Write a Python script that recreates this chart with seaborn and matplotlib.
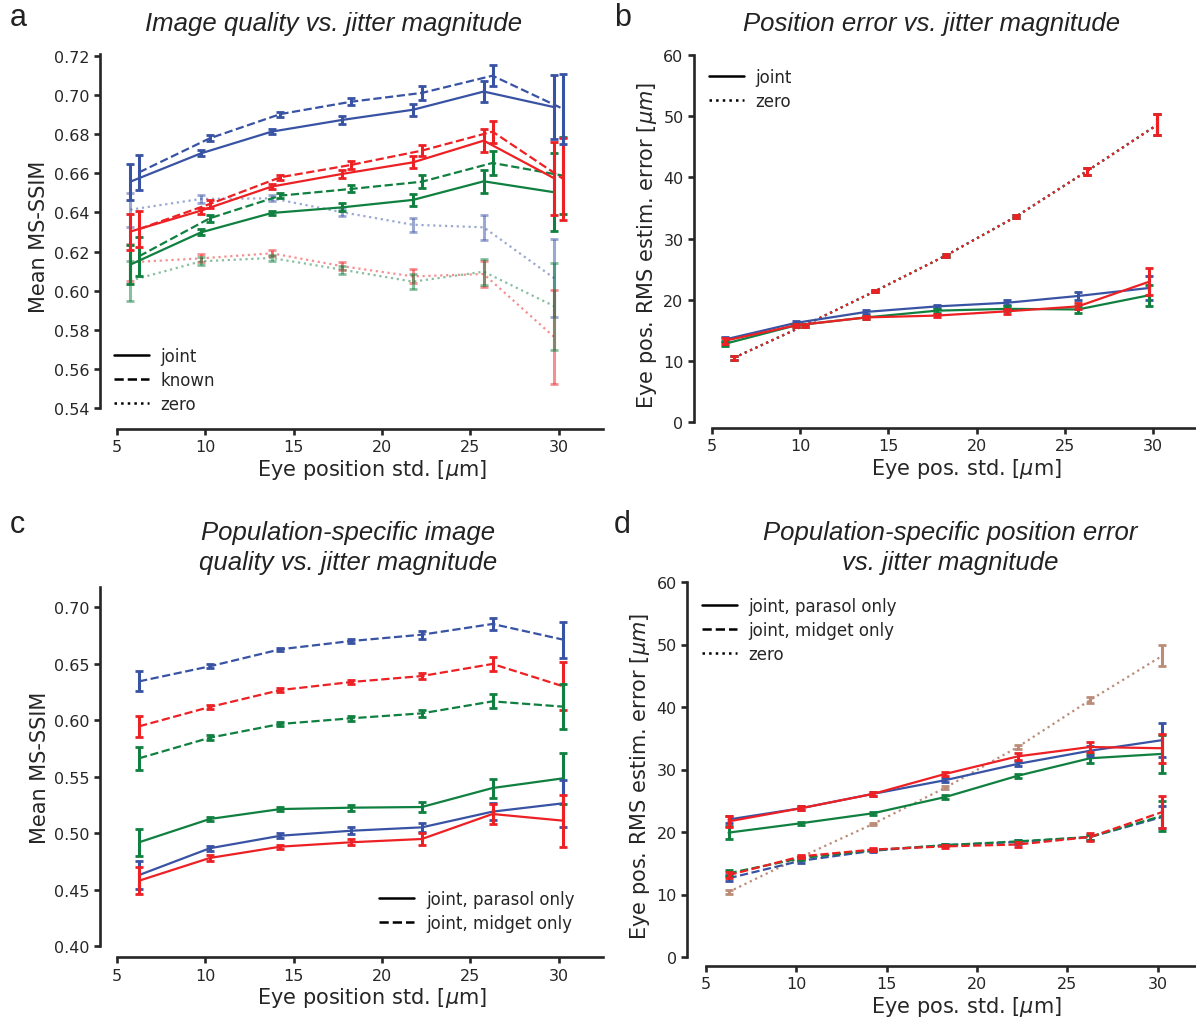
import numpy as np
import pandas as pd
import seaborn as sns
import matplotlib.pyplot as plt
from matplotlib.lines import Line2D

# eye position std values (um)
eye_std = np.array([6, 10, 14, 18, 22, 26, 30])

# ---- panel a: mean MS-SSIM, all cells ----
a_joint_blue = [0.6557, 0.6702, 0.6813, 0.6873, 0.6925, 0.7018, 0.6938]
a_joint_blue_err = [0.0092, 0.0015, 0.0013, 0.0020, 0.0030, 0.0055, 0.0165]
a_known_blue = [0.6605, 0.6779, 0.6903, 0.6966, 0.7011, 0.7099, 0.6929]
a_known_blue_err = [0.0088, 0.0015, 0.0013, 0.0018, 0.0034, 0.0054, 0.0180]
a_zero_blue = [0.6414, 0.6469, 0.6472, 0.6401, 0.6337, 0.6324, 0.6063]
a_zero_blue_err = [0.0087, 0.0019, 0.0015, 0.0020, 0.0036, 0.0064, 0.0200]
a_joint_red = [0.6302, 0.6409, 0.6532, 0.6597, 0.6656, 0.6767, 0.6574]
a_joint_red_err = [0.0092, 0.0015, 0.0013, 0.0020, 0.0030, 0.0060, 0.0186]
a_known_red = [0.6315, 0.6443, 0.6580, 0.6643, 0.6716, 0.6813, 0.6571]
a_known_red_err = [0.0092, 0.0018, 0.0013, 0.0020, 0.0030, 0.0056, 0.0210]
a_zero_red = [0.6145, 0.6165, 0.6191, 0.6125, 0.6073, 0.6085, 0.5762]
a_zero_red_err = [0.0095, 0.0020, 0.0015, 0.0020, 0.0036, 0.0068, 0.0239]
a_joint_green = [0.6133, 0.6298, 0.6397, 0.6426, 0.6464, 0.6559, 0.6503]
a_joint_green_err = [0.0100, 0.0015, 0.0010, 0.0020, 0.0032, 0.0060, 0.0200]
a_known_green = [0.6176, 0.6370, 0.6486, 0.6520, 0.6557, 0.6653, 0.6588]
a_known_green_err = [0.0099, 0.0018, 0.0013, 0.0018, 0.0033, 0.0063, 0.0196]
a_zero_green = [0.6051, 0.6150, 0.6167, 0.6107, 0.6046, 0.6097, 0.5920]
a_zero_green_err = [0.0102, 0.0020, 0.0015, 0.0020, 0.0040, 0.0066, 0.0223]

# ---- panel b: RMS position error ----
b_joint_blue = [13.5, 16.2, 18.0, 18.9, 19.5, 20.6, 21.9]
b_joint_blue_err = [0.4, 0.3, 0.3, 0.3, 0.4, 0.6, 2.0]
b_joint_green = [12.8, 15.8, 17.1, 18.2, 18.5, 18.4, 20.7]
b_joint_green_err = [0.4, 0.3, 0.3, 0.3, 0.4, 0.6, 1.7]
b_joint_red = [13.3, 15.8, 17.1, 17.4, 18.1, 18.9, 22.9]
b_joint_red_err = [0.5, 0.3, 0.3, 0.3, 0.4, 0.5, 2.2]
b_zero = [10.5, 15.8, 21.4, 27.2, 33.6, 41.0, 48.6]
b_zero_err = [0.35, 0.2, 0.2, 0.25, 0.3, 0.55, 1.75]

# ---- panel c: population-specific MS-SSIM ----
c_midget_blue = [0.6342, 0.6475, 0.6626, 0.6699, 0.6755, 0.6850, 0.6711]
c_midget_blue_err = [0.0089, 0.0018, 0.0015, 0.0018, 0.0034, 0.0052, 0.0160]
c_midget_red = [0.5944, 0.6115, 0.6265, 0.6336, 0.6389, 0.6496, 0.6298]
c_midget_red_err = [0.0091, 0.0018, 0.0015, 0.0018, 0.0030, 0.0065, 0.0212]
c_midget_green = [0.5661, 0.5843, 0.5965, 0.6015, 0.6059, 0.6165, 0.6118]
c_midget_green_err = [0.0103, 0.0020, 0.0015, 0.0020, 0.0030, 0.0062, 0.0202]
c_parasol_green = [0.4918, 0.5124, 0.5212, 0.5224, 0.5230, 0.5398, 0.5484]
c_parasol_green_err = [0.0118, 0.0020, 0.0020, 0.0025, 0.0048, 0.0084, 0.0226]
c_parasol_blue = [0.4628, 0.4865, 0.4976, 0.5020, 0.5050, 0.5189, 0.5263]
c_parasol_blue_err = [0.0123, 0.0020, 0.0020, 0.0030, 0.0038, 0.0074, 0.0210]
c_parasol_red = [0.4578, 0.4779, 0.4879, 0.4918, 0.4947, 0.5168, 0.5109]
c_parasol_red_err = [0.0122, 0.0025, 0.0018, 0.0025, 0.0056, 0.0088, 0.0230]

# ---- panel d: population-specific position error ----
d_parasol_blue = [22.0, 23.8, 26.1, 28.3, 30.9, 33.0, 34.7]
d_parasol_blue_err = [0.6, 0.3, 0.3, 0.3, 0.4, 0.8, 2.7]
d_parasol_red = [21.7, 23.8, 26.1, 29.3, 32.1, 33.6, 33.4]
d_parasol_red_err = [0.9, 0.3, 0.3, 0.3, 0.5, 0.85, 2.3]
d_parasol_green = [19.9, 21.4, 23.0, 25.6, 29.0, 31.8, 32.5]
d_parasol_green_err = [1.0, 0.2, 0.2, 0.3, 0.35, 0.7, 3.0]
d_midget_blue = [12.6, 15.4, 17.0, 17.9, 18.4, 19.2, 22.4]
d_midget_blue_err = [0.5, 0.3, 0.2, 0.2, 0.3, 0.4, 1.8]
d_midget_green = [13.4, 15.8, 17.1, 17.9, 18.5, 19.2, 22.6]
d_midget_green_err = [0.5, 0.3, 0.2, 0.2, 0.3, 0.4, 2.4]
d_midget_red = [13.1, 16.1, 17.2, 17.7, 18.0, 19.2, 23.2]
d_midget_red_err = [0.5, 0.3, 0.2, 0.2, 0.35, 0.6, 2.5]
d_zero = [10.4, 16.0, 21.3, 27.1, 33.6, 41.1, 48.2]
d_zero_err = [0.3, 0.2, 0.2, 0.25, 0.3, 0.5, 1.7]

BLUE = "#3953a4"
RED = "#ed2024"
GREEN = "#108040"
BROWN = "#bb8d78"

sns.set_style("ticks")
plt.rcParams["font.family"] = ["DejaVu Sans"]
plt.rcParams["axes.linewidth"] = 1.9
plt.rcParams["xtick.major.width"] = 1.9
plt.rcParams["ytick.major.width"] = 1.9
plt.rcParams["xtick.major.size"] = 4.5
plt.rcParams["ytick.major.size"] = 4.5
plt.rcParams["xtick.labelsize"] = 11.5
plt.rcParams["ytick.labelsize"] = 11.5
plt.rcParams["axes.labelsize"] = 15

fig = plt.figure(figsize=(11.96, 10.2), dpi=100)
W, H = 1196.0, 1020.0


def make_ax(left, right, top, bottom):
    return fig.add_axes([left / W, 1 - bottom / H, (right - left) / W, (bottom - top) / H])


ax_a = make_ax(117, 603, 55, 409)
ax_b = make_ax(712, 1197, 56, 423)
ax_c = make_ax(117, 603, 588, 947)
ax_d = make_ax(706, 1203, 583, 958)


def series(ax, y, err, color, ls, dx, alpha=1.0, lw=1.6):
    x = eye_std + dx
    df = pd.DataFrame({"x": x, "y": y})
    sns.lineplot(data=df, x="x", y="y", ax=ax, color=color, linestyle=ls,
                 lw=lw, alpha=alpha, legend=False)
    ax.errorbar(x, y, yerr=err, fmt="none", ecolor=color, elinewidth=2.2,
                capsize=3.2, capthick=2.0, alpha=alpha)


# panel a
for y, e, c in [(a_zero_blue, a_zero_blue_err, BLUE),
                (a_zero_red, a_zero_red_err, RED),
                (a_zero_green, a_zero_green_err, GREEN)]:
    series(ax_a, y, e, c, ":", -0.25, alpha=0.5)
for y, e, c, ls in [(a_joint_green, a_joint_green_err, GREEN, "-"),
                    (a_known_green, a_known_green_err, GREEN, "--"),
                    (a_joint_red, a_joint_red_err, RED, "-"),
                    (a_known_red, a_known_red_err, RED, "--"),
                    (a_joint_blue, a_joint_blue_err, BLUE, "-"),
                    (a_known_blue, a_known_blue_err, BLUE, "--")]:
    series(ax_a, y, e, c, ls, 0.25 if ls == "--" else -0.25)

# panel b
for c in [BLUE, GREEN, RED]:
    series(ax_b, b_zero, b_zero_err, c, ":", 0.25)
series(ax_b, b_joint_blue, b_joint_blue_err, BLUE, "-", -0.25)
series(ax_b, b_joint_green, b_joint_green_err, GREEN, "-", -0.25)
series(ax_b, b_joint_red, b_joint_red_err, RED, "-", -0.25)

# panel c
for y, e, c in [(c_midget_blue, c_midget_blue_err, BLUE),
                (c_midget_red, c_midget_red_err, RED),
                (c_midget_green, c_midget_green_err, GREEN)]:
    series(ax_c, y, e, c, "--", 0.25)
for y, e, c in [(c_parasol_green, c_parasol_green_err, GREEN),
                (c_parasol_blue, c_parasol_blue_err, BLUE),
                (c_parasol_red, c_parasol_red_err, RED)]:
    series(ax_c, y, e, c, "-", 0.25)

# panel d
series(ax_d, d_zero, d_zero_err, BROWN, ":", 0.25)
for y, e, c in [(d_midget_blue, d_midget_blue_err, BLUE),
                (d_midget_green, d_midget_green_err, GREEN),
                (d_midget_red, d_midget_red_err, RED)]:
    series(ax_d, y, e, c, "--", 0.25)
for y, e, c in [(d_parasol_green, d_parasol_green_err, GREEN),
                (d_parasol_blue, d_parasol_blue_err, BLUE),
                (d_parasol_red, d_parasol_red_err, RED)]:
    series(ax_d, y, e, c, "-", 0.25)

# axes styling
xlabel_long = r"Eye position std. [$\mu$m]"
xlabel_short = r"Eye pos. std. [$\mu$m]"
ylabel_err = r"Eye pos. RMS estim. error [$\mu m$]"

ax_a.set_ylim(0.54, 0.721)
ax_a.set_yticks(np.arange(0.54, 0.7201, 0.02))
ax_a.set_yticklabels([f"{v:.2f}" for v in np.arange(0.54, 0.7201, 0.02)])
ax_c.set_ylim(0.40, 0.7177)
ax_c.set_yticks(np.arange(0.40, 0.7001, 0.05))
ax_c.set_yticklabels([f"{v:.2f}" for v in np.arange(0.40, 0.7001, 0.05)])
for ax in (ax_b, ax_d):
    ax.set_ylim(0, 60)
    ax.set_yticks(range(0, 61, 10))

offsets = {ax_a: (12.5, 15), ax_b: (13, 4), ax_c: (12.5, 8), ax_d: (13.5, 6.5)}
for ax, (lo, bo) in offsets.items():
    ax.set_xlim(5, 32.5)
    ax.set_xticks([5, 10, 15, 20, 25, 30])
    sns.despine(ax=ax)
    ax.spines["left"].set_position(("outward", lo))
    ax.spines["bottom"].set_position(("outward", bo))
    ax.tick_params(pad=3)

ax_a.set_xlabel(xlabel_long, labelpad=2)
ax_c.set_xlabel(xlabel_long, labelpad=2)
ax_b.set_xlabel(xlabel_short, labelpad=2)
ax_d.set_xlabel(xlabel_short, labelpad=2)
ax_a.set_ylabel("Mean MS-SSIM", labelpad=3)
ax_c.set_ylabel("Mean MS-SSIM", labelpad=3)
ax_b.set_ylabel(ylabel_err, labelpad=3)
ax_d.set_ylabel(ylabel_err, labelpad=3)
for ax in (ax_a, ax_b, ax_c, ax_d):
    ax.xaxis.label.set_x(0.525)
for ax in (ax_a, ax_b, ax_d):
    ax.yaxis.label.set_y(0.485)


def style_handles(styles):
    return [Line2D([], [], color="black", lw=1.8, linestyle=s) for s in styles]


leg_kw = dict(frameon=False, fontsize=12, handlelength=2.1, handletextpad=0.7,
              labelspacing=0.36, borderaxespad=0)
ax_a.legend(style_handles(["-", "--", ":"]), ["joint", "known", "zero"],
            loc="lower left", bbox_to_anchor=(-0.02, -0.033), **leg_kw)
ax_b.legend(style_handles(["-", ":"]), ["joint", "zero"],
            loc="upper left", bbox_to_anchor=(-0.02, 0.983), **leg_kw)
ax_c.legend(style_handles(["-", "--"]), ["joint, parasol only", "joint, midget only"],
            loc="lower right", bbox_to_anchor=(0.955, 0.02), **leg_kw)
ax_d.legend(style_handles(["-", "--", ":"]),
            ["joint, parasol only", "joint, midget only", "zero"],
            loc="upper left", bbox_to_anchor=(-0.022, 0.978), **leg_kw)

# titles and panel letters
title_kw = dict(family=["Liberation Sans", "DejaVu Sans"], style="italic", fontsize=18.5,
                ha="center", va="center", linespacing=1.32, color="#222222")
fig.text(334 / W, 1 - 24 / H, "Image quality vs. jitter magnitude", **title_kw)
fig.text(932 / W, 1 - 24 / H, "Position error vs. jitter magnitude", **title_kw)
fig.text(348 / W, 1 - 548 / H, "Population-specific image\nquality vs. jitter magnitude", **title_kw)
fig.text(950 / W, 1 - 548 / H, "Population-specific position error\nvs. jitter magnitude", **title_kw)

letter_kw = dict(family=["Liberation Sans", "DejaVu Sans"], fontsize=22, ha="left", va="center",
                 color="#222222")
fig.text(10 / W, 1 - 18 / H, "a", **letter_kw)
fig.text(614 / W, 1 - 18 / H, "b", **letter_kw)
fig.text(10 / W, 1 - 525 / H, "c", **letter_kw)
fig.text(614 / W, 1 - 525 / H, "d", **letter_kw)

fig.savefig("out.png", dpi=100)
